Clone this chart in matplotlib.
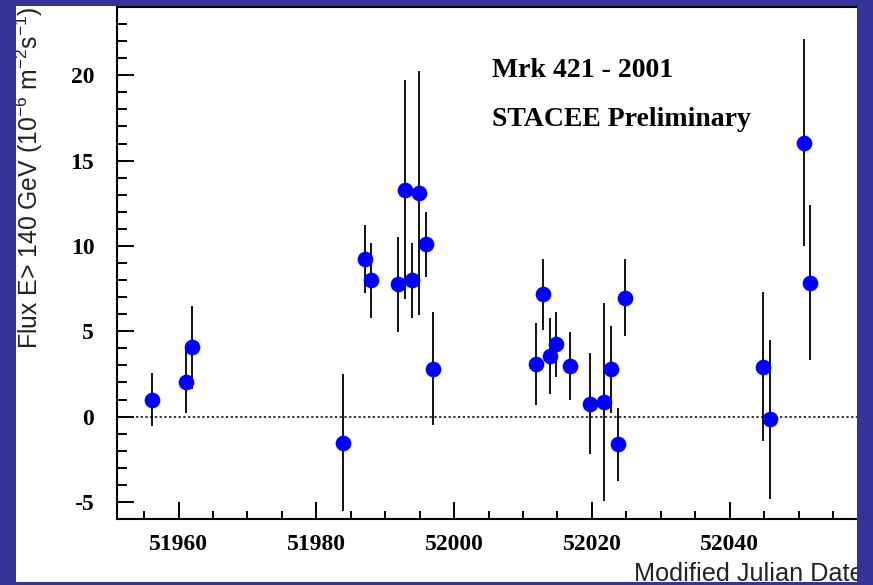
import matplotlib
matplotlib.use("Agg")
import matplotlib.pyplot as plt
from matplotlib.patches import Rectangle
from matplotlib.ticker import MultipleLocator

# STACEE Mrk 421 light curve, 2001 season
mjd = [51956.2, 51961.1, 51962.0, 51983.9, 51987.0, 51987.9, 51991.8, 51992.9,
       51993.9, 51994.9, 51995.9, 51996.9, 52011.9, 52012.9, 52013.9, 52014.8,
       52016.85, 52019.75, 52021.8, 52022.8, 52023.8, 52024.8, 52044.8, 52045.8,
       52050.8, 52051.7]
flux = [0.98, 2.05, 4.05, -1.52, 9.22, 8.0, 7.75, 13.3,
        7.98, 13.1, 10.1, 2.81, 3.06, 7.16, 3.55, 4.24,
        2.97, 0.75, 0.86, 2.77, -1.62, 6.97, 2.93, -0.16,
        16.05, 7.85]
flux_err = [1.55, 1.85, 2.45, 4.0, 2.0, 2.2, 2.8, 6.4,
            2.2, 7.15, 1.9, 3.3, 2.4, 2.1, 2.2, 1.9,
            2.0, 2.95, 5.8, 2.55, 2.15, 2.25, 4.35, 4.66,
            6.05, 4.56]

x_major = [51960, 51980, 52000, 52020, 52040]
y_major = [-5, 0, 5, 10, 15, 20]

W, H = 873, 585
frame_color = "#333399"
serif = ["Liberation Serif", "DejaVu Serif"]
sans = ["Liberation Sans", "DejaVu Sans"]

plt.rcParams["axes.unicode_minus"] = False
plt.rcParams["mathtext.fontset"] = "custom"
plt.rcParams["mathtext.rm"] = "Liberation Sans"
plt.rcParams["mathtext.it"] = "Liberation Sans:italic"

fig = plt.figure(figsize=(W / 100, H / 100), dpi=100, facecolor="white")

# axes placed in pixel units
ax_l, ax_r, ax_t, ax_b = 116.5, 862.0, 7.0, 519.0
ax = fig.add_axes([ax_l / W, 1 - ax_b / H, (ax_r - ax_l) / W, (ax_b - ax_t) / H])
ax.set_xlim(51951.0, 52059.2)
ax.set_ylim(-6, 24)

ax.axhline(0, color="black", lw=1.1, linestyle=(0, (1.5, 1.6)), zorder=1)

ax.errorbar(mjd, flux, yerr=flux_err, fmt="o", color="#0000ff", ecolor="black",
            elinewidth=1.3, capsize=0, markersize=11.3, markeredgewidth=0, zorder=3)

for side in ["left", "bottom", "top"]:
    ax.spines[side].set_linewidth(1.5)
ax.spines["right"].set_visible(False)

ax.set_xticks(x_major)
ax.set_yticks(y_major)
ax.xaxis.set_minor_locator(MultipleLocator(5))
ax.yaxis.set_minor_locator(MultipleLocator(1))
ax.tick_params(axis="both", which="both", direction="in", width=1.4,
               top=False, right=False, color="black")
ax.tick_params(axis="x", which="major", length=12, pad=11)
ax.tick_params(axis="x", which="minor", length=5.6)
ax.tick_params(axis="y", which="major", length=12.5, pad=16)
ax.tick_params(axis="y", which="minor", length=7.2)
for lab in ax.get_xticklabels() + ax.get_yticklabels():
    lab.set_fontfamily(serif)
    lab.set_fontweight("bold")
    lab.set_fontsize(17)

fig.text(491.7 / W, 1 - 76.7 / H, "Mrk 421 - 2001", family=serif, weight="bold",
         fontsize=20, ha="left", va="baseline")
fig.text(491.7 / W, 1 - 126.0 / H, "STACEE Preliminary", family=serif, weight="bold",
         fontsize=20, ha="left", va="baseline")

fig.text(29 / W, 1 - 178 / H,
         r"Flux E> 140 GeV (10$^{-6}$ m$^{-2}$s$^{-1}$)",
         family=sans, fontsize=17.8, rotation=90, ha="center", va="center",
         color="#222222")
fig.text(864 / W, 1 - 581 / H, "Modified Julian Date", family=sans, fontsize=18.2,
         ha="right", va="baseline", color="#222222")

# blue frame around the white panel
for (x0, y0, w, h) in [(0, 0, 16, H), (857, 0, W - 857, H), (0, 0, W, 6), (0, 582, W, H - 582)]:
    fig.add_artist(Rectangle((x0 / W, 1 - (y0 + h) / H), w / W, h / H,
                             transform=fig.transFigure, facecolor=frame_color,
                             edgecolor="none", zorder=20))

fig.savefig("out.png", dpi=100, facecolor="white")
